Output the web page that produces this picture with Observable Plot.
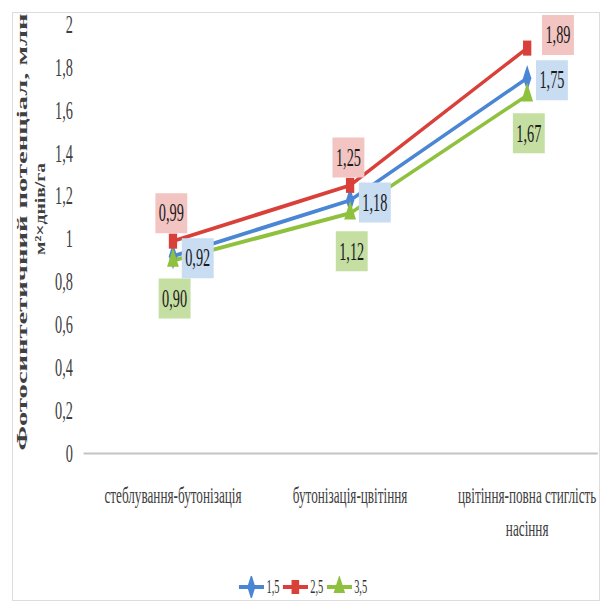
<!DOCTYPE html>
<html><head><meta charset="utf-8">
<script src="https://cdn.jsdelivr.net/npm/d3@7"></script>
<script src="https://cdn.jsdelivr.net/npm/@observablehq/plot@0.6"></script>
<style>
html,body{margin:0;padding:0;background:#fff;overflow:hidden;width:606px;height:601px;}
#frame{position:absolute;left:12px;top:12px;width:588px;height:589px;border:1px solid #dcdcdc;box-sizing:border-box;}
#wrap{position:absolute;left:0;top:0;width:1102px;height:601px;transform:scaleX(0.55);transform-origin:0 0;}
#chart{position:absolute;left:0;top:0;}
#legend{position:absolute;left:0;top:575px;width:1102px;text-align:center;font-family:"Liberation Serif",serif;font-size:19px;color:#333;line-height:24px;}
.item{display:inline-flex;align-items:center;margin:0 3px;}
.item svg{margin-right:4px;}
</style></head><body>
<div id="frame"></div>
<div id="wrap"><div id="chart"></div><div id="legend"></div></div>
<script>
// ---- data ----
const stages = ["стеблування-бутонізація", "бутонізація-цвітіння", "цвітіння-повна стиглість насіння"];
const seriesNames = ["1,5", "2,5", "3,5"];
const values15 = [0.92, 1.18, 1.75];
const values25 = [0.99, 1.25, 1.89];
const values35 = [0.90, 1.12, 1.67];
const yTicks = [0, 0.2, 0.4, 0.6, 0.8, 1, 1.2, 1.4, 1.6, 1.8, 2];
const titleLine1 = "Фотосинтетичний потенціал, млн";
const titleLine2 = "м²×днів/га";

// ---- styles ----
const lineColors = {"1,5": "#4a86d4", "2,5": "#d9403a", "3,5": "#8fc13e"};
const boxColors = {"1,5": "#c8dcf2", "2,5": "#f2c4c2", "3,5": "#c5dea2"};
const symbols = {"1,5": "diamond", "2,5": "square", "3,5": "triangle"};

const allValues = {"1,5": values15, "2,5": values25, "3,5": values35};
const rows = [];
seriesNames.forEach(s => allValues[s].forEach((v, i) => rows.push({stage: stages[i], series: s, value: v})));

const fmtVal = v => d3.format(".2f")(v).replace(".", ",");
const fmtTick = v => (Number.isInteger(v) ? String(v) : v.toFixed(1).replace(".", ","));
const boxSymbol = {draw(ctx) { ctx.rect(-29, -20, 58, 40); }};

const marks = [Plot.ruleY([0], {stroke: "#c4c4c4", strokeWidth: 2})];
for (const s of seriesNames) {
  marks.push(Plot.line(rows.filter(d => d.series === s), {x: "stage", y: "value", stroke: lineColors[s], strokeWidth: 4}));
}
for (const s of seriesNames) {
  marks.push(Plot.dot(rows.filter(d => d.series === s), {x: "stage", y: "value", symbol: symbols[s], r: s === "2,5" ? 8.5 : 8, fill: lineColors[s], stroke: "none"}));
}
function labelMarks(data, color, dx, dy) {
  return [
    Plot.dot(data, {x: "stage", y: "value", symbol: boxSymbol, r: 5, fill: color, stroke: "none", dx, dy}),
    Plot.text(data, {x: "stage", y: "value", text: d => fmtVal(d.value), dx, dy, fontSize: 26, fill: "#1a1a1a"})
  ];
}
const lastStage = stages[stages.length - 1];
marks.push(...labelMarks(rows.filter(d => d.series === "1,5"), boxColors["1,5"], 45, 2));
marks.push(...labelMarks(rows.filter(d => d.series === "3,5"), boxColors["3,5"], 3, 38));
marks.push(...labelMarks(rows.filter(d => d.series === "2,5" && d.stage !== lastStage), boxColors["2,5"], -3, -28));
marks.push(...labelMarks(rows.filter(d => d.series === "2,5" && d.stage === lastStage), boxColors["2,5"], 56, -13));

marks.push(Plot.axisY({ticks: yTicks, tickFormat: fmtTick, tickSize: 0, tickPadding: 20, fontSize: 26, color: "#404040", label: null}));
marks.push(Plot.axisX({tickSize: 0, tickPadding: 26, fontSize: 24, lineHeight: 1.38, color: "#404040", label: null,
  tickFormat: d => d === lastStage ? "цвітіння-повна стиглість\nнасіння" : d}));
marks.push(Plot.text([titleLine1], {frameAnchor: "left", textAnchor: "middle", rotate: -90, dx: -112, dy: -7, fontSize: 28, fontWeight: "bold", fill: "#404040"}));
marks.push(Plot.text([titleLine2], {frameAnchor: "left", textAnchor: "middle", rotate: -90, dx: -79, dy: -30, fontSize: 26, fontWeight: "bold", fill: "#404040"}));

const chart = Plot.plot({
  width: 1102,
  height: 566,
  marginLeft: 152,
  marginRight: 15,
  marginTop: 24,
  marginBottom: 113,
  style: {fontFamily: "Liberation Serif, serif", background: "transparent", overflow: "visible"},
  x: {type: "point", domain: stages, range: [152, 1120], padding: 0.5},
  y: {domain: [0, 2], range: [453, 24]},
  marks
});
document.getElementById("chart").appendChild(chart);
// stretch the rotated title lines along their length to match the reference
d3.select(chart).selectAll("text").each(function() {
  const t = this.textContent;
  const target = t === titleLine1 ? 437 : t === titleLine2 ? 92 : null;
  if (target) {
    const len = this.getComputedTextLength();
    const k = target / len;
    this.setAttribute("transform", (this.getAttribute("transform") || "") + ` scale(${k},1)`);
  }
});

const legend = d3.select("#legend");
for (const s of seriesNames) {
  const item = legend.append("span").attr("class", "item");
  const sv = item.append("svg").attr("width", 46).attr("height", 22);
  sv.append("line").attr("x1", 0).attr("x2", 46).attr("y1", 11).attr("y2", 11).attr("stroke", lineColors[s]).attr("stroke-width", 4);
  const sym = {diamond: d3.symbolDiamond, square: d3.symbolSquare, triangle: d3.symbolTriangle}[symbols[s]];
  sv.append("path").attr("transform", "translate(23,11)").attr("d", d3.symbol(sym, 190)()).attr("fill", lineColors[s]);
  item.append("span").text(s);
}
</script>
</body></html>
